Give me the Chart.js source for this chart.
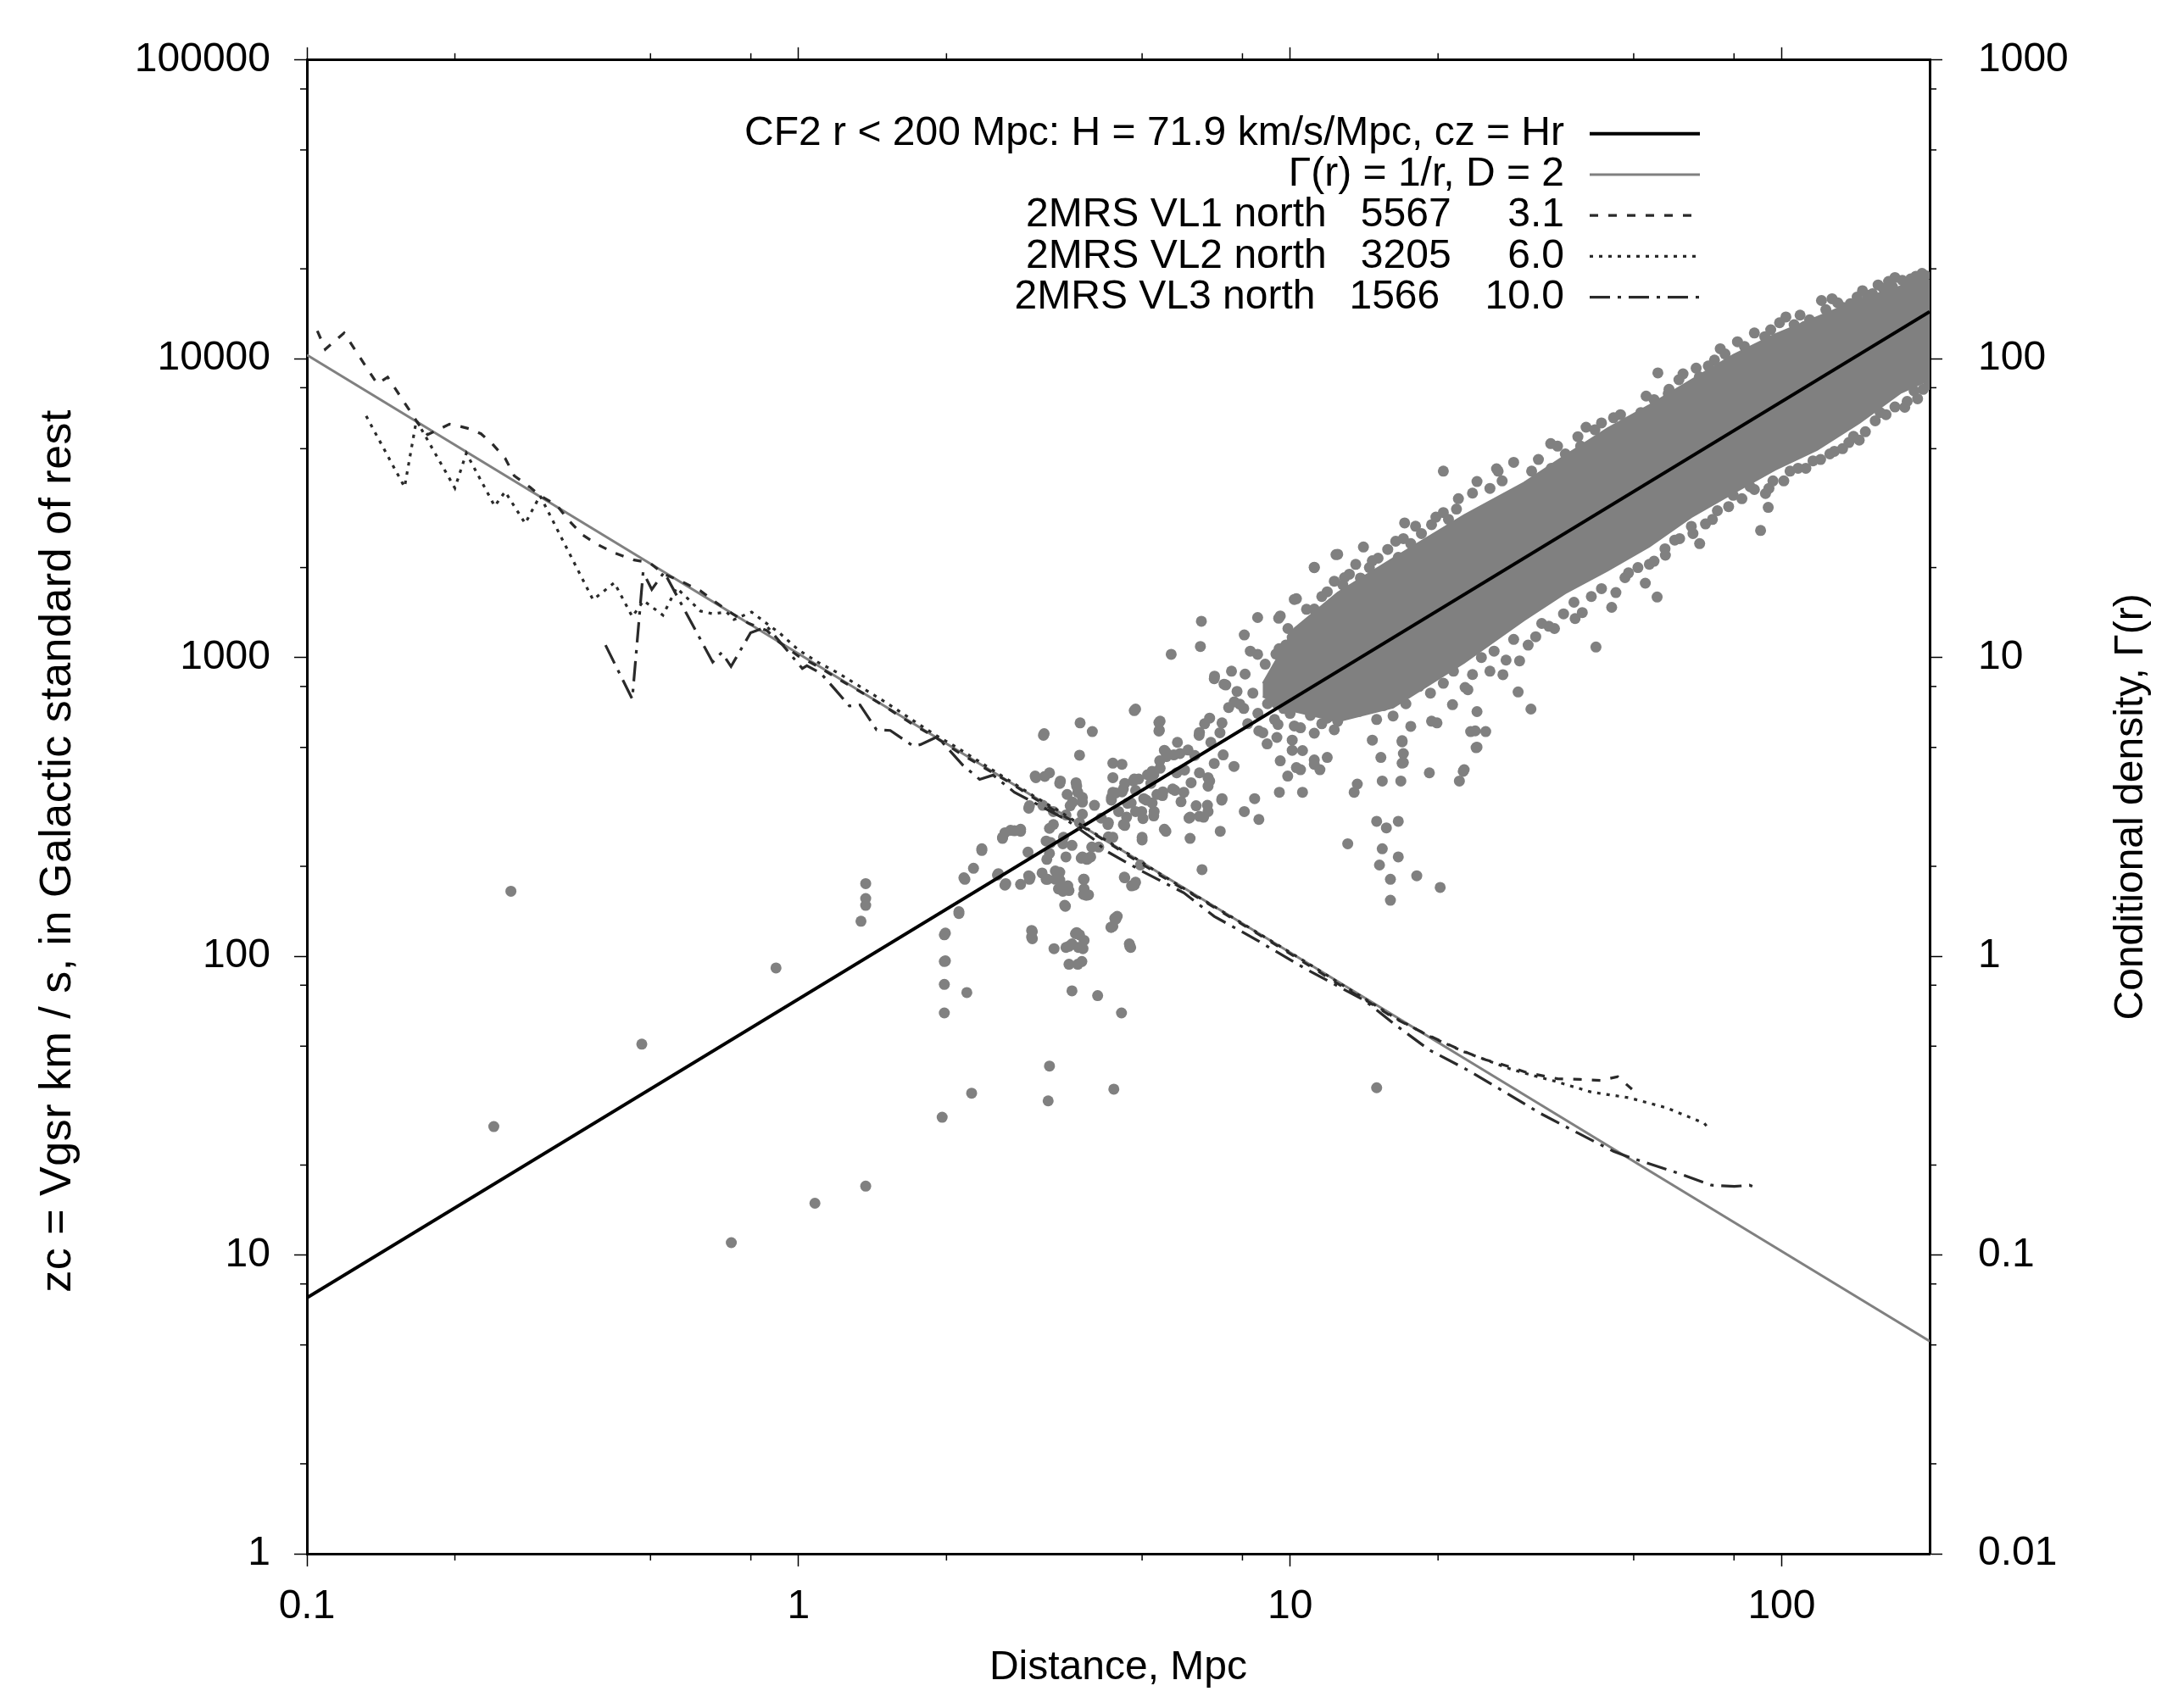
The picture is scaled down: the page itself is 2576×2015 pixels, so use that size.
<!DOCTYPE html>
<html><head><meta charset="utf-8">
<script src="https://cdn.jsdelivr.net/npm/chart.js@4.4.1/dist/chart.umd.min.js"></script>
<style>html,body{margin:0;padding:0;background:#fff;}canvas{display:block;}</style>
</head><body>
<canvas id="c" width="2576" height="2015"></canvas>
<script>
// ---------------- axis ticks ----------------
const xMajor = [0.1, 1, 10, 100];
const xTickLabels = ['0.1', '1', '10', '100'];
const xMinor = [0.2, 0.5, 0.8, 2, 5, 8, 20, 50, 80];
const yMajor = [1, 10, 100, 1000, 10000, 100000];
const yTickLabels = ['1', '10', '100', '1000', '10000', '100000'];
const yMinor = [2, 5, 8, 20, 50, 80, 200, 500, 800, 2000, 5000, 8000, 20000, 50000, 80000];
const y2Major = [0.01, 0.1, 1, 10, 100, 1000];
const y2TickLabels = ['0.01', '0.1', '1', '10', '100', '1000'];
const y2Minor = [0.02, 0.05, 0.08, 0.2, 0.5, 0.8, 2, 5, 8, 20, 50, 80, 200, 500, 800];

// ---------------- titles / labels ----------------
const xTitle = 'Distance, Mpc';
const yTitle = 'zc = Vgsr km / s, in Galactic standard of rest';
const y2Title = 'Conditional density, \u0393(r)';
const seriesLabels = [
  'CF2 r < 200 Mpc: H = 71.9 km/s/Mpc, cz = Hr',
  '\u0393(r) = 1/r, D = 2',
  '2MRS VL1 north   5567     3.1',
  '2MRS VL2 north   3205     6.0',
  '2MRS VL3 north   1566    10.0'
];

// ---------------- fitted lines ----------------
const hubbleR = [0.1, 200];
const hubbleV = [7.19, 14380];
const gammaR = [0.1, 200];
const gammaG = [103, 0.0515];

// ---------------- 2MRS conditional densities ----------------
const vl1R = [0.105,0.109,0.119,0.139,0.146,0.170,0.176,0.195,0.200,0.214,0.226,0.238,0.253,0.264,0.284,0.300,0.322,0.340,0.364,0.390,0.422,0.463,0.497,0.533,0.577,0.632,0.679,0.734,0.793,0.863,0.914,1.00,1.10,1.20,1.35,1.50,1.70,1.90,2.10,2.40,2.70,3.00,3.40,3.80,4.30,4.80,5.40,6.10,6.90,7.80,8.80,10.0,11.3,12.8,14.5,16.4,19.2,22.5,25.0,26.8,30.3,35.0,38.9,42.8,46.4,49.6];
const vl1G = [124,107.6,122,82.4,86.8,59.3,55.7,60.4,60.0,58.3,56.1,52.0,46.5,40.6,37.2,34.6,32.4,28.9,25.7,23.9,22.4,21.2,20.8,19.0,18.0,16.7,15.3,14.0,13.0,12.3,11.25,10.1,9.3,8.5,7.6,6.85,6.0,5.4,4.85,4.25,3.8,3.4,3.0,2.7,2.38,2.12,1.88,1.67,1.48,1.31,1.16,1.02,0.90,0.79,0.70,0.617,0.5415,0.481,0.450,0.436,0.408,0.389,0.387,0.384,0.395,0.359];
const vl2R = [0.132,0.158,0.167,0.200,0.211,0.241,0.253,0.278,0.298,0.382,0.422,0.459,0.484,0.530,0.565,0.594,0.632,0.670,0.714,0.739,0.803,0.872,0.914,1.00,1.10,1.20,1.35,1.50,1.70,1.90,2.10,2.40,2.70,3.00,3.40,3.80,4.30,4.80,5.40,6.10,6.90,7.80,8.80,10.0,11.3,12.8,14.5,16.4,19.2,22.5,25.0,28.0,31.0,34.3,41.0,48.9,58.3,69.6,71.4];
const vl2G = [64.3,37.2,62.2,36.9,48.3,32.1,35.9,28.1,34.8,15.6,17.8,13.7,15.5,13.85,17.1,15.8,14.3,14.0,14.2,13.4,14.2,12.8,12.1,10.6,9.6,8.9,7.9,7.1,6.2,5.5,5.0,4.35,3.85,3.45,3.05,2.72,2.40,2.15,1.90,1.68,1.49,1.32,1.17,1.03,0.91,0.80,0.705,0.62,0.54,0.48,0.45,0.42,0.40,0.383,0.351,0.336,0.311,0.276,0.262];
const vl3R = [0.405,0.459,0.483,0.503,0.533,0.669,0.698,0.729,0.799,0.863,1.018,1.040,1.109,1.19,1.269,1.334,1.441,1.537,1.709,1.771,1.915,2.16,2.336,2.489,2.749,3.50,3.977,4.207,4.988,6.08,7.01,8.5,10.71,14.2,16.36,19.18,22.88,27.05,32.28,38.5,45.5,49.7,59.8,72.0,80.1,86.0,88.3];
const vl3G = [11.0,7.26,19.3,16.9,19.3,9.65,10.4,9.33,12.1,12.7,9.19,9.39,8.87,7.78,6.88,6.94,5.73,5.70,5.06,5.11,5.43,4.36,3.91,4.04,3.54,2.87,2.47,2.26,1.93,1.63,1.36,1.14,0.911,0.71,0.59,0.486,0.4174,0.3547,0.298,0.256,0.2223,0.2107,0.191,0.1713,0.1696,0.1713,0.1685];

// ---------------- CF2 galaxies: dense core of the r > 10 Mpc cloud (outline) ----------------
const coreUpperR = [8.8, 10.2, 12.5, 16.2, 22.6, 29.9, 36.3, 44.2, 53.8, 65.5, 79.7, 97.1, 118, 144, 175, 200];
const coreUpperV = [820, 1250, 1650, 2150, 3000, 3850, 4750, 5850, 7000, 8500, 10300, 12100, 13800, 15800, 17500, 18300];
const coreLowerR = [200, 175, 144, 118, 97.1, 79.7, 65.5, 53.8, 44.2, 36.3, 29.9, 22.6, 16.2, 12.5, 10.2, 8.8];
const coreLowerV = [8500, 7700, 6100, 4950, 4250, 3550, 2950, 2350, 1950, 1640, 1330, 960, 680, 610, 660, 740];

// ---------------- CF2 galaxies: individual points [r Mpc, cz km/s] ----------------
const cf2Sparse = [[0.24,26.9],[0.26,165],[0.48,50.8],[0.73,11.0],[0.90,91.4],[1.08,14.9],[1.37,17.0],[1.37,175],[1.37,156],[1.37,148],[1.34,131],[1.96,28.9],[2.25,34.8],[3.22,32.8],[3.24,42.9],[4.38,35.9],[15.0,36.3],[1.98,118],[1.98,96],[1.98,80.5],[1.98,64.6],[2.20,75.6],[2.12,139],[1.99,119.5],[1.99,96.5]];
const cf2Local = [[2.98,122],[2.98,116],[3.31,106],[3.55,108],[3.66,119],[3.79,106],[3.55,94],[3.70,94],[3.60,76.6],[4.06,73.8],[4.54,64.6],[4.32,125],[4.40,134],[4.72,108],[4.60,184],[4.76,172],[3.49,147],[3.80,181],[3.80,161],[3.40,180],[3.50,170],[3.45,165],[3.19,181],[2.96,184],[2.64,175],[2.83,174],[2.93,223],[2.17,183],[2.27,197],[2.36,226],[2.55,189],[2.60,248],[2.70,264],[2.75,263],[3.60,110],[3.73,118],[3.81,113],[3.77,96],[4.36,126],[4.45,136],[4.71,110],[4.85,177],[5.00,250],[5.55,266],[4.42,133],[4.33,125],[4.74,107],[3.68,120],[3.71,107],[3.50,107],[2.99,121],[2.99,114.5],[3.89,160.5],[3.81,181],[3.55,166],[3.38,168],[3.21,181],[3.76,213],[3.89,213],[3.33,193],[3.19,243],[3.45,238],[3.60,235],[3.95,232],[2.95,181],[2.63,173],[2.54,187],[2.18,181],[2.63,259],[2.83,262],[2.83,266],[2.60,250],[2.36,229],[2.94,186],[2.12,141]];
const cf2Crossing = [[3.03,401],[3.24,411],[3.41,386],[3.67,381],[3.70,354],[3.61,328],[3.78,328],[2.94,313],[3.14,320],[3.30,305],[3.50,297],[4.00,320],[4.13,290],[4.26,276],[4.48,305],[4.36,250],[4.58,276],[4.85,305],[4.08,232],[3.93,215],[3.78,215],[3.30,276],[3.24,221],[3.46,250],[3.20,211],[3.13,190],[3.40,191],[3.53,172],[3.33,181],[3.81,168],[3.85,160],[3.48,148],[3.74,604],[3.96,565],[3.16,556],[3.73,471],[4.36,443],[4.36,396],[4.36,354],[4.67,325],[5.04,337],[5.29,305],[5.50,345],[5.77,363],[6.08,354],[6.54,294],[6.23,290],[6.79,320],[7.27,337],[8.07,305],[8.47,337],[8.64,287],[9.51,354],[9.89,401],[10.6,354],[11.2,454],[11.5,421],[10.5,421],[10.1,489],[8.98,514],[8.64,568],[9.45,597],[10.5,582],[9.70,675],[10.2,737],[10.9,746],[11.9,627],[12.5,612],[12.3,746],[11.8,824],[12.9,845],[13.5,354],[13.1,238],[13.7,377],[15.4,386],[16.8,386],[15.7,269],[16.6,283],[15.4,229],[16.6,215],[15.2,202],[16.0,181],[18.1,186],[20.2,170],[16.0,154],[15.0,283],[16.9,527],[17.0,477],[16.9,443],[19.2,411],[22.6,421],[22.1,386],[24.0,501],[23.8,568],[23.5,877],[24.0,659],[19.4,612]];
const cf2Middle = [[6.60,1322],[6.57,1089],[5.73,1025],[8.59,1361],[8.07,1190],[8.59,1025],[10.2,1565],[11.2,2006],[12.5,2216],[9.48,1354],[9.50,1070],[10.1,1167],[7.02,866],[7.34,814],[7.70,710],[8.05,675],[6.86,627],[7.27,604],[6.54,561],[4.85,672],[5.44,612],[5.42,571],[5.55,489],[5.97,477],[5.88,411],[6.54,411],[6.86,386],[6.29,381],[5.44,426],[5.24,416],[4.80,386],[4.58,363],[7.01,849],[7.40,809],[7.90,698],[4.82,664],[3.15,549],[5.41,606],[5.41,567],[4.55,439],[6.53,549],[6.20,490],[5.80,472],[5.60,466],[5.59,482],[5.43,451],[5.28,405],[5.21,379],[5.51,355],[5.83,359],[6.00,329],[5.36,348],[5.10,333],[4.92,392],[4.85,359],[4.61,379],[4.42,352],[4.33,333],[4.75,326],[4.27,280],[4.61,274],[4.27,251],[4.65,292],[5.02,289],[5.28,295],[6.26,292],[6.81,305],[7.21,262],[6.62,195],[6.26,248],[5.59,262],[5.00,245],[4.96,202],[4.61,183],[4.82,173],[2.95,319],[3.04,396],[3.17,400],[3.40,379],[3.68,371],[3.78,340],[3.78,299],[3.73,280],[3.52,348],[3.57,319],[3.24,268],[3.26,240],[3.50,215],[3.86,211],[4.33,340],[4.55,355],[4.82,392],[5.13,405],[5.24,326],[4.99,305],[6.44,319],[6.81,371],[6.81,396],[7.01,442],[7.31,472],[7.69,432],[7.26,333],[6.67,292]];
const cf2Near10 = [[8.2,600],[8.6,650],[9.0,700],[9.3,620],[9.7,760],[10.0,650],[10.4,800],[10.8,700],[11.1,880],[11.5,760],[12.0,950],[12.4,830],[8.8,560],[9.4,540],[10.2,590],[11.0,640],[11.8,700],[12.5,740],[9.9,900],[10.7,960],[11.3,1050],[12.2,1100],[12.8,1000],[13.3,900],[13.8,1200],[14.3,1050],[8.4,760],[8.1,880],[7.8,770],[7.5,680],[7.2,560],[6.9,520],[6.4,470],[6.1,420],[5.9,520],[6.7,600],[9.2,800],[9.6,900],[9.8,1100],[10.3,950],[10.6,1200],[10.9,1000],[11.4,1300],[11.7,1150],[12.1,1400],[12.6,1250],[13.0,1500],[13.4,1350],[13.9,1600],[14.4,1450],[14.9,1750],[15.4,1600],[15.9,1900],[9.4,700],[10.1,760],[10.9,820],[11.6,600],[12.9,700],[13.8,660],[14.6,750],[15.5,690],[16.3,760],[17.2,700],[18.3,800],[19.3,760],[12.3,1800],[13.2,1900],[14.5,2000],[15.8,2300],[17.0,2500],[18.5,2600],[19.5,2400],[21,2900],[10.8,1450],[11.6,1600],[12.9,1850],[13.6,2050],[15.1,2150],[16.4,2450],[18.0,2750],[19.8,2950],[9.9,1250],[8.9,950],[8.3,1050],[7.6,900]];
const cf2UpperEdge = [[120.5,15670],[126.6,15880],[132.9,14860],[142.4,16090],[149.6,16310],[157.1,17660],[165,18140],[187.5,18880],[197,17660],[196,19000],[183,18500],[170,18700],[111.4,12840],[102,13800],[92.4,11860],[81.3,11400],[76.7,10380],[70.9,9459],[61.8,8505],[56.0,8968],[58.8,7646],[51.7,6607],[45.5,6348],[41.7,5783],[38.5,5484],[33.9,5200],[36.3,4802],[31.0,4205],[26.5,4205],[26.3,4283],[24.0,3882],[25.5,3681],[21.8,3139],[20.5,4205],[20.5,3056],[19.4,2785],[17.6,2406],[16.6,2164],[17.1,2822],[15.3,1894],[14.1,2344],[14.7,2107],[13.9,1845],[12.8,1750],[12.4,2210],[11.9,1659],[11.2,1452],[11.2,1998],[10.3,1573],[9.55,1377],[9.36,1027],[22,3400],[23.5,3550],[27,3900],[28.5,4500],[32,4600],[34,4300],[35,5100],[39,5100],[40,5900],[43,6100],[47,6500],[49,6000],[53,7500],[55,7300],[59,7900],[63,8900],[67,9300],[68,8700],[73,9900],[75,10800],[84,11000],[88,12200],[95,12500],[99,13200],[106,13000],[109,14000],[114,13500],[123,14600],[130,15400],[138,15300],[146,16900],[153,16500],[161,17200],[168,17400],[176,18300],[182,17900],[190,18300],[193,19300]];
const cf2LowerEdge = [[137,5243],[178,6878],[189,7347],[158.6,6607],[143.8,5341],[125.3,4802],[115.8,4553],[104,4205],[94.2,3681],[93.9,3181],[92.7,3538],[90.6,2662],[86.3,3731],[79.7,3491],[72.3,2898],[65.5,2748],[68.1,2406],[60.6,2471],[57.9,2312],[55.8,1594],[53.8,2051],[52.8,1773],[48.8,1920],[45.1,1472],[41.9,1084],[39.3,1414],[37.8,1531],[33.6,1272],[31.6,1174],[30.9,672],[29.3,974],[29.1,767],[27.1,876],[25.5,900],[25.0,565],[23.9,499],[23.3,565],[22.5,416],[22.7,794],[21.4,695],[19.9,604],[17.6,588],[16.9,522],[17.0,445],[16.2,637],[15.3,463],[15.0,620],[14.7,529],[14.7,728],[12.3,573],[11.9,463],[11.2,558],[11.2,439],[10.6,488],[10.3,428],[10.1,529],[9.55,451],[20.5,820],[21.5,900],[23,780],[24.5,1000],[26,1050],[27.5,980],[28.5,1150],[30.5,1100],[32.5,1300],[34.5,1250],[36,1400],[38,1350],[41,1600],[43,1700],[46,1650],[48,1850],[51,2000],[55,2100],[58,2200],[62,2500],[66,2600],[70,2800],[74,3100],[78,3200],[83,3400],[88,3650],[96,3900],[101,3900],[108,4300],[112,4300],[120,4600],[128,4900],[133,5000],[140,5500],[148,5700],[155,6200],[163,6500],[170,6900],[180,7200],[186,7800],[194,7900],[199,8200]];

// ---------------- build chart ----------------
const FONT = 'Liberation Sans';
Chart.defaults.font.family = FONT;
const zip = (a, b) => a.map((v, i) => ({x: v, y: b[i]}));
const pairs = arr => arr.map(p => ({x: p[0], y: p[1]}));
const galaxyPoints = [].concat(pairs(cf2Sparse), pairs(cf2Local), pairs(cf2Crossing), pairs(cf2Middle), pairs(cf2Near10), pairs(cf2UpperEdge), pairs(cf2LowerEdge));
const corePolygon = zip(coreUpperR, coreUpperV).concat(zip(coreLowerR, coreLowerV));

const GRAY = '#808080';
const CURVE = '#2a2a2a';
const lineDs = (label, data, color, width, dash, axis, order) => ({
  label, data, yAxisID: axis, showLine: true, borderColor: color, backgroundColor: color,
  borderWidth: width, borderDash: dash, pointRadius: 0, pointHoverRadius: 0, tension: 0, fill: false, order
});

const datasets = [
  lineDs(seriesLabels[0], zip(hubbleR, hubbleV), '#000000', 4, [], 'y', 5),
  lineDs(seriesLabels[1], zip(gammaR, gammaG), GRAY, 3, [], 'y2', 4),
  lineDs(seriesLabels[2], zip(vl1R, vl1G), CURVE, 3.2, [10, 12], 'y2', 3),
  lineDs(seriesLabels[3], zip(vl2R, vl2G), CURVE, 3.2, [4, 7], 'y2', 2),
  lineDs(seriesLabels[4], zip(vl3R, vl3G), CURVE, 3.2, [24, 9, 4, 9], 'y2', 1),
  { label: 'CF2 galaxies', data: galaxyPoints, yAxisID: 'y', showLine: false,
    pointRadius: 6.5, pointHoverRadius: 6.5, pointBorderWidth: 0,
    backgroundColor: GRAY, borderColor: GRAY, order: 6 },
  { label: 'CF2 dense core', data: corePolygon, yAxisID: 'y', showLine: true, fill: 'shape',
    backgroundColor: GRAY, borderColor: GRAY, borderWidth: 2, pointRadius: 0, pointHoverRadius: 0, order: 7 }
];

const tickFont = {family: FONT, size: 48};
function logAxis(pos, min, max, major, labels, padding, fitSize, showLabels) {
  return {
    type: 'logarithmic', position: pos, min, max,
    afterBuildTicks: s => { s.ticks = major.map(v => ({value: v})); },
    afterFit: s => { if (s.isHorizontal()) s.height = fitSize; else s.width = fitSize; },
    ticks: { display: showLabels, autoSkip: false, maxRotation: 0, minRotation: 0, padding, color: '#000', font: tickFont,
             callback: v => labels[major.indexOf(v)] },
    grid: { display: true, drawOnChartArea: false, drawTicks: true, tickLength: 15, tickWidth: 1.5, tickColor: '#000' },
    border: { display: true, color: '#000', width: 3 }
  };
}
const scales = {
  x: logAxis('bottom', 0.1, 200, xMajor, xTickLabels, 19, 182, true),
  x2: logAxis('top', 0.1, 200, xMajor, xTickLabels, 0, 65, false),
  y: logAxis('left', 1, 100000, yMajor, yTickLabels, 28, 362, true),
  y2: logAxis('right', 0.01, 1000, y2Major, y2TickLabels, 42, 300, true)
};
scales.x.title = { display: true, text: xTitle, color: '#000', font: tickFont, padding: {top: 0, bottom: 18} };

const minorTicks = {
  id: 'minorTicks',
  afterDraw(chart) {
    const ctx = chart.ctx, a = chart.chartArea, L = 8;
    ctx.save(); ctx.strokeStyle = '#000'; ctx.lineWidth = 1.5;
    const seg = (x1, y1, x2, y2) => { ctx.beginPath(); ctx.moveTo(x1, y1); ctx.lineTo(x2, y2); ctx.stroke(); };
    xMinor.forEach(v => { const p = chart.scales.x.getPixelForValue(v); seg(p, a.bottom, p, a.bottom + L); seg(p, a.top, p, a.top - L); });
    yMinor.forEach(v => { const p = chart.scales.y.getPixelForValue(v); seg(a.left, p, a.left - L, p); });
    y2Minor.forEach(v => { const p = chart.scales.y2.getPixelForValue(v); seg(a.right, p, a.right + L, p); });
    ctx.restore();
  }
};

const keyAndTitles = {
  id: 'keyAndTitles',
  afterDraw(chart) {
    const ctx = chart.ctx, a = chart.chartArea;
    ctx.save();
    ctx.font = '48px "' + FONT + '"';
    ctx.fillStyle = '#000';
    ctx.textAlign = 'right'; ctx.textBaseline = 'middle';
    const textRight = a.right - 431, x1 = a.right - 401, x2 = a.right - 271;
    for (let i = 0; i < 5; i++) {
      const ds = chart.data.datasets[i];
      const y = a.top + 87 + i * 48.2;
      ctx.fillText(ds.label, textRight, y);
      ctx.beginPath();
      ctx.strokeStyle = ds.borderColor; ctx.lineWidth = ds.borderWidth;
      ctx.setLineDash(ds.borderDash || []);
      ctx.moveTo(x1, y); ctx.lineTo(x2, y); ctx.stroke();
    }
    ctx.setLineDash([]);
    ctx.textAlign = 'center';
    // left axis title (reading bottom-to-top)
    ctx.save();
    ctx.font = '52px "' + FONT + '"';
    if ('letterSpacing' in ctx) ctx.letterSpacing = '0.5px';
    ctx.translate(69, a.top + 933);
    ctx.rotate(-Math.PI / 2);
    ctx.fillText(yTitle, 0, 0);
    ctx.restore();
    // right axis title (reading bottom-to-top)
    ctx.translate(a.right + 238, (a.top + a.bottom) / 2);
    ctx.rotate(-Math.PI / 2);
    ctx.fillText(y2Title, 0, 0);
    ctx.restore();
  }
};

new Chart(document.getElementById('c'), {
  type: 'scatter',
  data: { datasets },
  options: {
    responsive: false, animation: false, devicePixelRatio: 1, events: [],
    layout: { padding: 0 },
    plugins: { legend: { display: false }, tooltip: { enabled: false } },
    scales
  },
  plugins: [minorTicks, keyAndTitles]
});
</script>
</body></html>
